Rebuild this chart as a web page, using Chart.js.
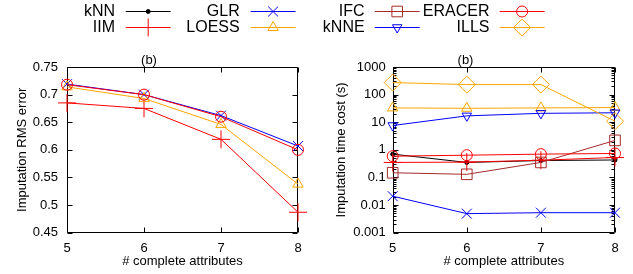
<!DOCTYPE html>
<html>
<head>
<meta charset="utf-8">
<script src="https://cdn.jsdelivr.net/npm/chart.js@4.4.1/dist/chart.umd.min.js"></script>
<style>
  html, body { margin: 0; padding: 0; background: #fff; }
  #wrap { position: relative; width: 633px; height: 274px; overflow: hidden; font-family: "Liberation Sans", Arial, sans-serif; }
  #legendCanvas { position: absolute; left: 0; top: 0; }
  #leftBox { position: absolute; left: 0; top: 40px; width: 316px; height: 234px; }
  #rightBox { position: absolute; left: 316px; top: 40px; width: 317px; height: 234px; }
  .lg { position: absolute; font-size: 16px; line-height: 16px; color: #000; white-space: nowrap; }
</style>
</head>
<body>
<div id="wrap">
  <canvas id="legendCanvas" width="633" height="40"></canvas>
  <div id="leftBox"><canvas id="rmsChart"></canvas></div>
  <div id="rightBox"><canvas id="timeChart"></canvas></div>
</div>
<script>
// x categories: number of complete attributes
const attrs = ['5', '6', '7', '8'];

// left panel: imputation RMS error (kNN is hidden under GLR/ERACER in the picture)
const rmsIIM    = [0.685, 0.675, 0.619, 0.487];
const rmsGLR    = [0.719, 0.700, 0.662, 0.607];
const rmsLOESS  = [0.714, 0.693, 0.646, 0.538];
const rmsERACER = [0.718, 0.700, 0.660, 0.600];

// right panel: imputation time cost (s), log scale
const timeKNN    = [0.70, 0.35, 0.41, 0.43];
const timeIIM    = [0.35, 0.36, 0.42, 0.53];
const timeGLR    = [0.021, 0.0049, 0.0053, 0.0053];
const timeLOESS  = [33, 32, 33, 34];
const timeIFC    = [0.148, 0.13, 0.35, 2.2];
const timeKNNE   = [7.6, 17, 21, 22];
const timeERACER = [0.59, 0.64, 0.70, 0.74];
const timeILLS   = [273, 231, 231, 10.9];

// tick labels
const rmsTicks  = [0.45, 0.5, 0.55, 0.6, 0.65, 0.7, 0.75];
const timeTicks = [0.001, 0.01, 0.1, 1, 10, 100, 1000];

// series look (gnuplot-like)
const styles = {
  kNN:    { color: '#000000', point: 'circle',   r: 2,   rot: 0,   fill: true },
  IIM:    { color: '#ff0000', point: 'cross',    r: 9,   rot: 0 },
  GLR:    { color: '#0000ff', point: 'crossRot', r: 7,   rot: 0 },
  LOESS:  { color: '#ffa500', point: 'triangle', r: 6,   rot: 0 },
  IFC:    { color: '#a52a2a', point: 'rect',     r: 7.5, rot: 0 },
  kNNE:   { color: '#0000ff', point: 'triangle', r: 5.5, rot: 180 },
  ERACER: { color: '#ff0000', point: 'circle',   r: 5.5, rot: 0 },
  ILLS:   { color: '#ffa500', point: 'rectRot',  r: 8.5, rot: 0 }
};
const legendOrder = ['kNN', 'IIM', 'GLR', 'LOESS', 'IFC', 'kNNE', 'ERACER', 'ILLS'];

const FONT = '"Liberation Sans", Arial, sans-serif';

function makeDataset(name, data, idx) {
  const s = styles[name];
  const bg = s.fill ? s.color : 'rgba(0,0,0,0)';
  return {
    label: name,
    data: data,
    borderColor: s.color,
    backgroundColor: bg,
    pointBackgroundColor: bg,
    pointBorderColor: s.color,
    pointStyle: s.point,
    pointRadius: s.r,
    pointHoverRadius: s.r,
    pointRotation: s.rot,
    pointBorderWidth: 1,
    borderWidth: 1,
    tension: 0,
    fill: false,
    clip: false,
    order: 20 - idx
  };
}

// border box + inward ticks on all four sides
function framePlugin(majorY, minorY) {
  return {
    id: 'frame',
    beforeDatasetsDraw(chart) {
      const { ctx, chartArea: a, scales } = chart;
      const L = Math.round(a.left) + 0.5, R = Math.round(a.right) - 0.5;
      const T = Math.round(a.top) + 0.5, B = Math.round(a.bottom) - 0.5;
      ctx.save();
      ctx.strokeStyle = '#000';
      ctx.lineWidth = 1;
      ctx.beginPath();
      ctx.rect(L, T, R - L, B - T);
      attrs.forEach((_, i) => {
        const px = Math.round(scales.x.getPixelForValue(i)) + 0.5;
        ctx.moveTo(px, B); ctx.lineTo(px, B - 5);
        ctx.moveTo(px, T); ctx.lineTo(px, T + 5);
      });
      const tick = (v, len) => {
        const py = Math.round(scales.y.getPixelForValue(v)) + 0.5;
        ctx.moveTo(L, py); ctx.lineTo(L + len, py);
        ctx.moveTo(R, py); ctx.lineTo(R - len, py);
      };
      majorY.forEach(v => tick(v, 5));
      minorY.forEach(v => tick(v, 3));
      ctx.stroke();
      ctx.restore();
    }
  };
}

function baseOptions(yTitle, yWidth, yTitlePad, yLabelPad) {
  return {
    responsive: true,
    maintainAspectRatio: false,
    animation: false,
    events: [],
    layout: { padding: { left: 0, right: 18, top: 0, bottom: 0 } },
    plugins: {
      legend: { display: false },
      tooltip: { enabled: false },
      title: {
        display: true, text: '(b)', color: '#000',
        font: { family: FONT, size: 13, weight: 'normal', lineHeight: 1 },
        padding: { top: 14, bottom: 0 }
      }
    },
    scales: {
      x: {
        type: 'category',
        offset: false,
        grid: { display: false, drawTicks: false },
        border: { display: false },
        ticks: { color: '#000', font: { family: FONT, size: 13 }, padding: 7.5, maxRotation: 0, autoSkip: false },
        title: {
          display: true, text: '# complete attributes', color: '#000',
          font: { family: FONT, size: 13 }, padding: { top: 0, bottom: 5.2 }
        },
        afterFit: s => { s.height = 41.3; }
      },
      y: {
        grid: { display: false, drawTicks: false },
        border: { display: false },
        ticks: { color: '#000', font: { family: FONT, size: 13 }, padding: yLabelPad, autoSkip: false },
        title: {
          display: true, text: yTitle, color: '#000',
          font: { family: FONT, size: 13 }, padding: { top: yTitlePad, bottom: 0 }
        },
        afterFit: s => { s.width = yWidth; }
      }
    }
  };
}

// legend: text on the left, line sample on the right (gnuplot key)
function drawLegend() {
  const wrap = document.getElementById('wrap');
  const ctx = document.getElementById('legendCanvas').getContext('2d');
  const textRight = [115, 239.7, 364.6, 489.5];
  const lineStart = [125.7, 250.6, 374.7, 499.6];
  const rowY = [11, 27];
  legendOrder.forEach((name, i) => {
    const col = Math.floor(i / 2), row = i % 2;
    const s = styles[name];
    const span = document.createElement('span');
    span.className = 'lg';
    span.textContent = name;
    span.style.right = (633 - textRight[col]) + 'px';
    span.style.top = (rowY[row] - 7.8) + 'px';
    wrap.appendChild(span);

    const y = rowY[row] + 0.5;
    const x1 = lineStart[col], x2 = x1 + 45;
    ctx.save();
    ctx.strokeStyle = s.color;
    ctx.fillStyle = s.fill ? s.color : 'rgba(0,0,0,0)';
    ctx.lineWidth = 1;
    ctx.beginPath();
    ctx.moveTo(x1, y);
    ctx.lineTo(x2, y);
    ctx.stroke();
    Chart.helpers.drawPoint(ctx, { pointStyle: s.point, radius: s.r, rotation: s.rot, borderWidth: 1 }, (x1 + x2) / 2, y);
    ctx.restore();
  });
}

document.addEventListener('DOMContentLoaded', function () {
  drawLegend();

  // left: RMS error
  const rmsOpts = baseOptions('Imputation RMS error', 67, 14.2, 9);
  rmsOpts.scales.y.type = 'linear';
  rmsOpts.scales.y.min = 0.45;
  rmsOpts.scales.y.max = 0.75;
  rmsOpts.scales.y.afterBuildTicks = s => { s.ticks = rmsTicks.map(v => ({ value: v })); };
  rmsOpts.scales.y.ticks.callback = v => String(parseFloat(Number(v).toFixed(2)));

  new Chart(document.getElementById('rmsChart'), {
    type: 'line',
    data: {
      labels: attrs,
      datasets: [
        makeDataset('IIM', rmsIIM, 1),
        makeDataset('GLR', rmsGLR, 2),
        makeDataset('LOESS', rmsLOESS, 3),
        makeDataset('ERACER', rmsERACER, 6)
      ]
    },
    options: rmsOpts,
    plugins: [framePlugin(rmsTicks, [])]
  });

  // right: time cost, log scale
  const minor = [];
  timeTicks.slice(0, -1).forEach(d => { for (let m = 2; m <= 9; m++) minor.push(d * m); });

  const timeOpts = baseOptions('Imputation time cost (s)', 76.7, 17.2, 7);
  timeOpts.scales.y.type = 'logarithmic';
  timeOpts.scales.y.min = 0.001;
  timeOpts.scales.y.max = 1000;
  timeOpts.scales.y.afterBuildTicks = s => { s.ticks = timeTicks.map(v => ({ value: v })); };
  timeOpts.scales.y.ticks.callback = v => String(Number(Number(v).toPrecision(1)));

  new Chart(document.getElementById('timeChart'), {
    type: 'line',
    data: {
      labels: attrs,
      datasets: [
        makeDataset('kNN', timeKNN, 0),
        makeDataset('IIM', timeIIM, 1),
        makeDataset('GLR', timeGLR, 2),
        makeDataset('LOESS', timeLOESS, 3),
        makeDataset('IFC', timeIFC, 4),
        makeDataset('kNNE', timeKNNE, 5),
        makeDataset('ERACER', timeERACER, 6),
        makeDataset('ILLS', timeILLS, 7)
      ]
    },
    options: timeOpts,
    plugins: [framePlugin(timeTicks, minor)]
  });
});
</script>
</body>
</html>
